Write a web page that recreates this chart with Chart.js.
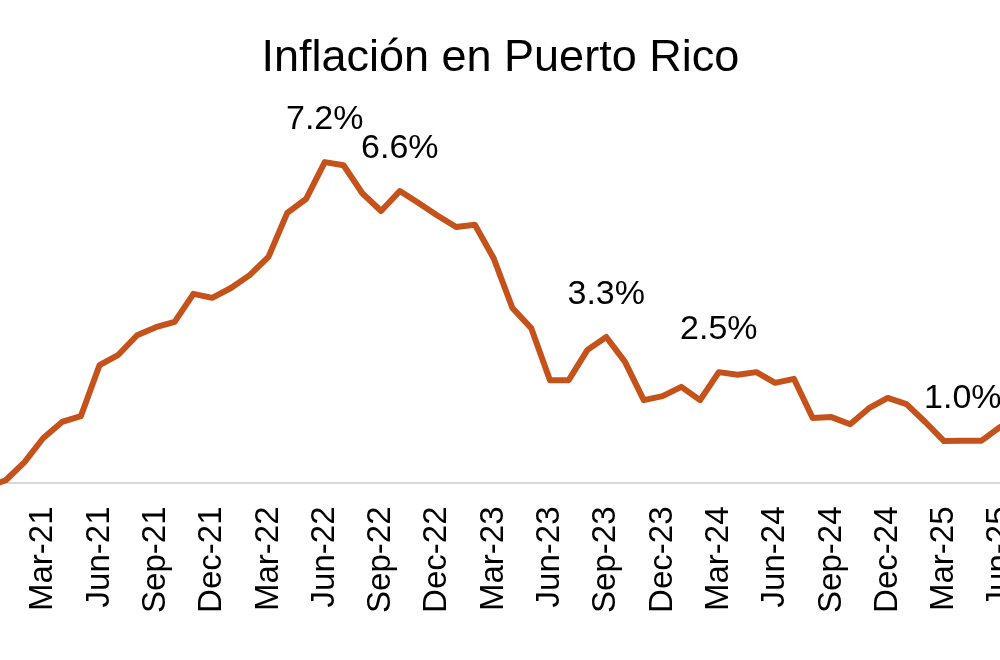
<!DOCTYPE html>
<html lang="es">
<head>
<meta charset="utf-8">
<title>Inflación en Puerto Rico</title>
<script src="https://cdn.jsdelivr.net/npm/chart.js@4.4.1/dist/chart.umd.min.js"></script>
<style>
    html, body { margin: 0; padding: 0; background: #fff; }
    /* la figura original está recortada a los lados: el lienzo es más ancho que la ventana */
    #wrap { position: relative; width: 1000px; height: 660px; overflow: hidden; }
    #box { position: absolute; left: -13.3px; top: 0; width: 1026.6px; height: 660px; }
</style>
</head>
<body>
<div id="wrap">
    <div id="box"><canvas id="inflationChart"></canvas></div>
</div>
<script>
// -------------------------------------------------------------------------
// Datos (inflación interanual, %)
// -------------------------------------------------------------------------
const months = [
    'Dec-20',
    'Jan-21', 'Feb-21', 'Mar-21', 'Apr-21', 'May-21', 'Jun-21',
    'Jul-21', 'Aug-21', 'Sep-21', 'Oct-21', 'Nov-21', 'Dec-21',
    'Jan-22', 'Feb-22', 'Mar-22', 'Apr-22', 'May-22', 'Jun-22',
    'Jul-22', 'Aug-22', 'Sep-22', 'Oct-22', 'Nov-22', 'Dec-22',
    'Jan-23', 'Feb-23', 'Mar-23', 'Apr-23', 'May-23', 'Jun-23',
    'Jul-23', 'Aug-23', 'Sep-23', 'Oct-23', 'Nov-23', 'Dec-23',
    'Jan-24', 'Feb-24', 'Mar-24', 'Apr-24', 'May-24', 'Jun-24',
    'Jul-24', 'Aug-24', 'Sep-24', 'Oct-24', 'Nov-24', 'Dec-24',
    'Jan-25', 'Feb-25', 'Mar-25', 'Apr-25', 'May-25', 'Jun-25'
];

const inflation = [
    -0.10,
    0.05, 0.46, 1.00, 1.36, 1.49, 2.64,
    2.87, 3.31, 3.49, 3.61, 4.24, 4.15,
    4.37, 4.66, 5.07, 6.06, 6.37, 7.20,
    7.13, 6.50, 6.10, 6.55, 6.28, 6.00,
    5.74, 5.79, 5.04, 3.92, 3.47, 2.30,
    2.30, 2.98, 3.27, 2.71, 1.85, 1.94,
    2.15, 1.85, 2.48, 2.42, 2.48, 2.24,
    2.33, 1.45, 1.47, 1.31, 1.67, 1.90,
    1.76, 1.36, 0.93, 0.94, 0.94, 1.25
];

// etiquetas visibles del eje X (una por trimestre)
const tickLabels = [
    'Mar-21', 'Jun-21', 'Sep-21', 'Dec-21',
    'Mar-22', 'Jun-22', 'Sep-22', 'Dec-22',
    'Mar-23', 'Jun-23', 'Sep-23', 'Dec-23',
    'Mar-24', 'Jun-24', 'Sep-24', 'Dec-24',
    'Mar-25', 'Jun-25'
];

// etiquetas de datos destacadas
const calloutMonths = ['Jun-22', 'Oct-22', 'Sep-23', 'Mar-24', 'Apr-25'];
const calloutText = ['7.2%', '6.6%', '3.3%', '2.5%', '1.0%'];

const FONT = "'Liberation Sans', Arial, Helvetica, sans-serif";

// -------------------------------------------------------------------------
// Plugin sencillo para las etiquetas de datos
// -------------------------------------------------------------------------
const calloutPlugin = {
    id: 'callouts',
    afterDatasetsDraw(chart) {
        const ctx = chart.ctx;
        const points = chart.getDatasetMeta(0).data;
        ctx.save();
        ctx.font = '34px ' + FONT;
        ctx.fillStyle = '#000';
        ctx.textAlign = 'center';
        ctx.textBaseline = 'alphabetic';
        calloutMonths.forEach((m, i) => {
            const pt = points[months.indexOf(m)];
            if (!pt) return;
            ctx.fillText(calloutText[i], pt.x, pt.y - 33);
        });
        ctx.restore();
    }
};

// -------------------------------------------------------------------------
// Gráfica
// -------------------------------------------------------------------------
const ctx = document.getElementById('inflationChart');

new Chart(ctx, {
    type: 'line',
    data: {
        labels: months,
        datasets: [{
            data: inflation,
            borderColor: '#C4521A',
            borderWidth: 6,
            borderJoinStyle: 'round',
            borderCapStyle: 'round',
            pointRadius: 0,
            tension: 0,
            fill: false,
            clip: false
        }]
    },
    options: {
        responsive: true,
        maintainAspectRatio: false,
        animation: false,
        layout: {
            autoPadding: false,
            padding: 0
        },
        plugins: {
            legend: { display: false },
            tooltip: { enabled: false },
            title: {
                display: true,
                text: 'Inflación en Puerto Rico',
                color: '#000',
                font: { family: FONT, size: 45, weight: 'normal', lineHeight: 1.2 },
                padding: { top: 32, bottom: 0 }
            }
        },
        scales: {
            x: {
                offset: false,
                grid: { display: false, drawTicks: false },
                border: { display: true, color: '#D9D9D9', width: 2 },
                ticks: {
                    autoSkip: false,
                    minRotation: 90,
                    maxRotation: 90,
                    padding: 24,
                    color: '#000',
                    font: { family: FONT, size: 33 },
                    callback(value) {
                        const lab = months[value];
                        return tickLabels.includes(lab) ? lab : '';
                    }
                },
                // eje a 0 % en y = 482.5 px, sin márgenes laterales automáticos
                afterFit(scale) {
                    scale.paddingLeft = 0;
                    scale.paddingRight = 0;
                    scale.height = 177.5;
                }
            },
            y: {
                // eje invisible a la derecha: sólo reserva el hueco para que el título quede centrado
                position: 'right',
                min: 0,
                max: 8.91,
                grid: { display: false, drawTicks: false },
                border: { display: false },
                ticks: { display: false },
                afterFit(scale) {
                    scale.width = 13.3;
                }
            }
        }
    },
    plugins: [calloutPlugin]
});
</script>
</body>
</html>
